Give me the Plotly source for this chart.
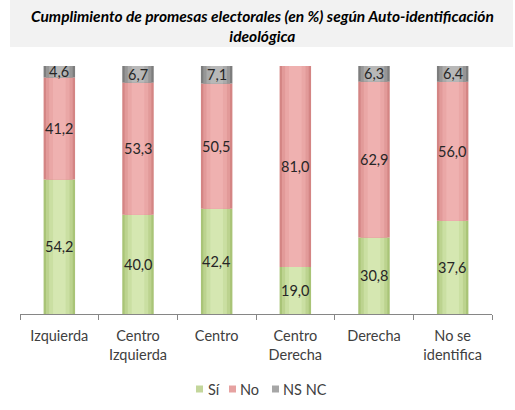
import plotly.graph_objects as go

categories = ["Izquierda", "Centro<br>Izquierda", "Centro", "Centro<br>Derecha", "Derecha", "No se<br>identifica"]
si = [54.2, 40.0, 42.4, 19.0, 30.8, 37.6]
no = [41.2, 53.3, 50.5, 81.0, 62.9, 56.0]
nsnc = [4.6, 6.7, 7.1, 0.0, 6.3, 6.4]
series_names = ["Sí", "No", "NS NC"]

FONT = "Lato, 'Open Sans', sans-serif"
series = [si, no, nsnc]
legend_colors = ["#c3d69b", "#e6a2a1", "#a6a6a6"]
# gradient layers: (width, color) from outer to inner
layers = [
    [(0.40, "#a9c477"), (0.34, "#bcd38f"), (0.26, "#cadfa2"), (0.16, "#d5e7b1")],
    [(0.40, "#d48584"), (0.34, "#e29a99"), (0.26, "#eaa7a6"), (0.16, "#efb1b0")],
    [(0.40, "#7d7d7d"), (0.34, "#969696"), (0.26, "#aaaaaa"), (0.16, "#b8b8b8")],
]

# plot area in pixels (for positioning of overlay items)
PL, PR, PT, PB = 20, 492, 66, 314
def px(x):
    return (x - PL) / (PR - PL)
def py(y):
    return (PB - y) / (PB - PT)

fig = go.Figure()
annotations = []
bases = [0.0] * len(categories)
for s_idx, vals in enumerate(series):
    for l_idx, (w, col) in enumerate(layers[s_idx]):
        fig.add_trace(go.Bar(
            x=categories, y=vals, base=list(bases), width=w,
            marker=dict(color=col, line=dict(width=0)),
            name=series_names[s_idx], showlegend=False, hoverinfo="skip",
        ))
    for i, v in enumerate(vals):
        if v > 0:
            annotations.append(dict(
                x=categories[i], y=bases[i] + v / 2,
                text=f"{v:.1f}".replace(".", ","),
                showarrow=False, font=dict(family=FONT, size=14.5, color="#262626"),
                xref="x", yref="y",
            ))
    bases = [b + v for b, v in zip(bases, vals)]

shapes = [dict(type="rect", xref="paper", yref="paper", x0=px(10), x1=px(513),
               y0=py(47), y1=py(0), fillcolor="#f2f2f2", line=dict(width=0), layer="below")]

# manual legend
legend_sq_x = [196, 229, 272]
legend_txt_x = [206, 238, 281]
ly = 389
for k in range(3):
    shapes.append(dict(type="rect", xref="paper", yref="paper",
                       x0=px(legend_sq_x[k]), x1=px(legend_sq_x[k] + 7),
                       y0=py(ly + 3.5), y1=py(ly - 3.5),
                       fillcolor=legend_colors[k], line=dict(width=0)))
    annotations.append(dict(text=series_names[k], xref="paper", yref="paper",
                            x=px(legend_txt_x[k]), y=py(ly), xanchor="left", yanchor="middle",
                            showarrow=False, font=dict(family=FONT, size=14.5, color="#404040")))

annotations.append(dict(
    text="<b><i>Cumplimiento de promesas electorales (en %) según Auto-identificación<br>ideológica</i></b>",
    xref="paper", yref="paper", x=px(262), y=py(26), xanchor="center", yanchor="middle",
    showarrow=False, font=dict(family=FONT, size=15.5, color="#000000")))

fig.update_layout(
    width=515, height=410,
    barmode="overlay",
    paper_bgcolor="white", plot_bgcolor="white",
    margin=dict(l=PL, r=515 - PR, t=PT, b=410 - PB),
    font=dict(family=FONT, size=14.5, color="#404040"),
    showlegend=False,
    xaxis=dict(showline=True, linecolor="#868686", linewidth=1,
               ticks="outside", tickson="boundaries", ticklen=5, tickcolor="#868686",
               ticklabelstandoff=9,
               tickfont=dict(family=FONT, size=14.5, color="#404040"),
               showgrid=False, fixedrange=True),
    yaxis=dict(range=[0, 100], visible=False, showgrid=False),
    shapes=shapes,
    annotations=annotations,
)

fig.write_html("out.html")
